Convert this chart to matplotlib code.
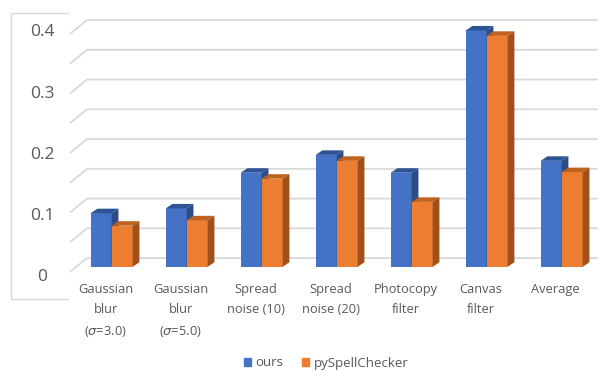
import numpy as np
import matplotlib.pyplot as plt
from matplotlib.patches import Polygon, Patch

plt.rcParams['font.family'] = ['Open Sans', 'DejaVu Sans']

categories = ["Gaussian\nblur\n($\\sigma$=3.0)", "Gaussian\nblur\n($\\sigma$=5.0)",
              "Spread\nnoise (10)", "Spread\nnoise (20)", "Photocopy\nfilter",
              "Canvas\nfilter", "Average"]
ours = [0.090, 0.098, 0.158, 0.188, 0.158, 0.397, 0.178]
pyspell = [0.069, 0.078, 0.148, 0.178, 0.109, 0.388, 0.159]
yticks = [0, 0.05, 0.1, 0.15, 0.2, 0.25, 0.3, 0.35, 0.4]
ylabels = ["0", "", "0.1", "", "0.2", "", "0.3", "", "0.4"]
series = ["ours", "pySpellChecker"]

BLUE, BLUE_TOP, BLUE_SIDE = "#4472C4", "#2E5394", "#2B4C86"
ORANGE, ORANGE_TOP, ORANGE_SIDE = "#ED7D31", "#C0621F", "#A0501A"
GRID = "#D9D9D9"
TEXT = "#595959"

# fake 3d: bar depth and floor depth offsets in data units
bar_w = 0.28
bar_dx, bar_dy = 0.09, 0.0076
floor_x0, floor_x1, floor_end = -0.556, -0.329, 6.48
floor_front, floor_back = -0.0089, 0.0146

fig = plt.figure(figsize=(6.03, 3.71), dpi=100)
ax = fig.add_axes([0, 0, 1, 1])
ax.set_xlim(-1.489, 6.551)
ax.set_ylim(-0.1751, 0.4482)
ax.axis('off')

# gridlines: short diagonal on the side wall, then flat along the back wall
for v in yticks:
    ax.plot([floor_x0, floor_x1, floor_end],
            [v + floor_front, v + floor_back, v + floor_back],
            color=GRID, lw=1.3, zorder=1, solid_capstyle='butt')

for v, lab in zip(yticks, ylabels):
    if lab:
        ax.text(-0.93, v * 1.03 - 0.018, lab, ha='center', va='center',
                fontsize=12.5, color=TEXT)


def bar3d(x0, h, front, top, side):
    ax.bar(x0, h, width=bar_w, align='edge', color=front, zorder=3, linewidth=0)
    ax.add_patch(Polygon([(x0, h), (x0 + bar_w, h),
                          (x0 + bar_w + bar_dx, h + bar_dy), (x0 + bar_dx, h + bar_dy)],
                         closed=True, color=top, zorder=3, linewidth=0))
    ax.add_patch(Polygon([(x0 + bar_w, 0), (x0 + bar_w + bar_dx, bar_dy),
                          (x0 + bar_w + bar_dx, h + bar_dy), (x0 + bar_w, h)],
                         closed=True, color=side, zorder=3, linewidth=0))


for i, (a, b) in enumerate(zip(ours, pyspell)):
    bar3d(i - bar_w, a, BLUE, BLUE_TOP, BLUE_SIDE)
    bar3d(i, b, ORANGE, ORANGE_TOP, ORANGE_SIDE)
    ax.text(i - 0.08, -0.027, categories[i], ha='center', va='top',
            fontsize=9.3, color=TEXT, linespacing=1.7)

# thin frame around the value labels
fx0, fx1 = 11 / 603, 68 / 603
fy0, fy1 = 1 - 299 / 371, 1 - 13 / 371
ax.plot([fx1, fx0, fx0, fx1], [fy1, fy1, fy0, fy0], transform=ax.transAxes,
        color=GRID, lw=1.0, zorder=1)

handles = [Patch(color=BLUE), Patch(color=ORANGE)]
fig.legend(handles, series, loc='center', bbox_to_anchor=(0.541, 1 - 363 / 371),
           ncol=2, frameon=False, fontsize=9.5, handlelength=0.55, handleheight=0.55,
           handletextpad=0.35, columnspacing=1.4, labelcolor=TEXT)

fig.savefig("out.png", dpi=100)
